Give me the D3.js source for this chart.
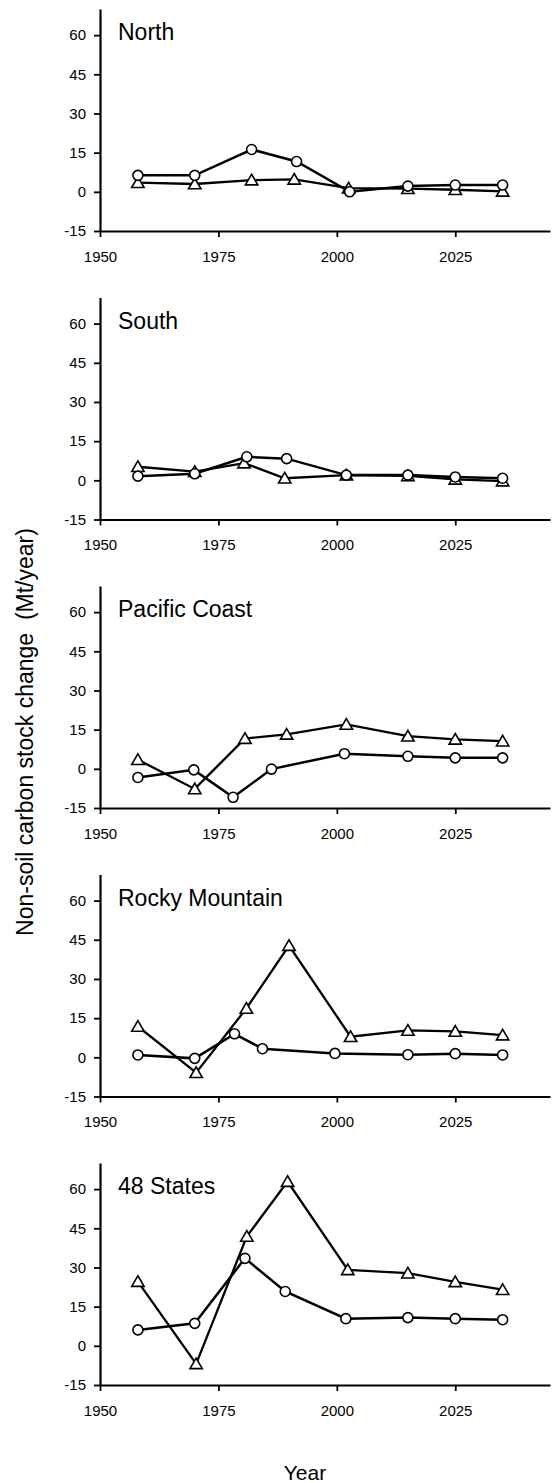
<meta charset="utf-8">
<script src="https://d3js.org/d3.v7.min.js"></script>
<style>
  body { margin: 0; background: #fff; }
  text { font-family: "Liberation Sans", Arial, Helvetica, sans-serif; fill: #000; }
</style>
<svg width=552 height=1483></svg>

<script>

// Tick labels shared by every panel
var xTicks = [1950, 1975, 2000, 2025];
var yTicks = [-15, 0, 15, 30, 45, 60];

// Panel names, top to bottom
var regions = ['North', 'South', 'Pacific Coast', 'Rocky Mountain', '48 States'];

// [year, Mt/year]; circles and triangles for each region
var northCircles = [[1958, 6.3], [1970, 6.3], [1982, 16.2], [1991.5, 11.6], [2002.7, 0], [2015, 2.2], [2025, 2.6], [2035, 2.6]];
var northTriangles = [[1958, 3.5], [1970, 3.0], [1982, 4.5], [1991, 4.8], [2002.5, 1.4], [2015, 1.2], [2025, 0.8], [2035, 0.2]];

var southCircles = [[1958, 1.6], [1970, 2.5], [1981, 9.0], [1989.4, 8.3], [2002, 2.0], [2015, 2.0], [2025, 1.3], [2035, 0.8]];
var southTriangles = [[1958, 5.2], [1970, 3.3], [1980.4, 6.6], [1989, 0.8], [2002, 2.0], [2015, 1.7], [2025, 0.4], [2035, -0.3]];

var pacificCircles = [[1958, -3.3], [1969.8, -0.4], [1978.1, -10.9], [1986.2, -0.1], [2001.6, 5.8], [2015, 4.8], [2025, 4.2], [2035, 4.2]];
var pacificTriangles = [[1958, 3.5], [1970, -7.7], [1980.6, 11.6], [1989.4, 13.2], [2002, 17.0], [2015, 12.5], [2025, 11.3], [2035, 10.6]];

var rockyCircles = [[1958, 0.9], [1970, -0.4], [1978.4, 9.0], [1984.3, 3.3], [1999.6, 1.5], [2015, 1.0], [2025, 1.4], [2035, 0.9]];
var rockyTriangles = [[1958, 11.8], [1970.3, -5.9], [1980.9, 18.7], [1989.9, 42.8], [2002.9, 7.9], [2015, 10.3], [2025, 9.9], [2035, 8.5]];

var statesCircles = [[1958, 6.1], [1970, 8.6], [1980.6, 33.5], [1989.1, 20.8], [2001.9, 10.4], [2015, 10.8], [2025, 10.4], [2035, 10.0]];
var statesTriangles = [[1958, 24.6], [1970.3, -6.9], [1981, 41.9], [1989.6, 62.9], [2002.3, 29.1], [2015, 27.8], [2025, 24.5], [2035, 21.5]];

var circleSeries = [northCircles, southCircles, pacificCircles, rockyCircles, statesCircles];
var triangleSeries = [northTriangles, southTriangles, pacificTriangles, rockyTriangles, statesTriangles];


var svg = d3.select('svg');

var panelH = 222;
var panelStep = 288.5;

var x = d3.scaleLinear().domain([1950, 2045]).range([100, 550]);
var y = d3.scaleLinear().domain([-15, 70]).range([panelH, 0]);

var line = d3.line()
  .x(function(d) { return x(d[0]); })
  .y(function(d) { return y(d[1]); });

var triangle = 'M0,-5.8L6.2,4.8L-6.2,4.8Z';

regions.forEach(function(name, i) {

  var g = svg.append('g')
    .attr('transform', 'translate(0,' + (9 + i * panelStep) + ')');

  // axes (plain hyphen for negatives, as in the original)
  g.append('g')
    .attr('transform', 'translate(0,' + panelH + ')')
    .call(d3.axisBottom(x).tickValues(xTicks).tickFormat(function(d) { return String(d); })
      .tickSize(6).tickSizeOuter(0).tickPadding(14));

  g.append('g')
    .attr('transform', 'translate(' + x(1950) + ',0)')
    .call(d3.axisLeft(y).tickValues(yTicks).tickFormat(function(d) { return String(d); })
      .tickSize(6).tickSizeOuter(0).tickPadding(8));

  g.selectAll('.domain').attr('stroke', '#000').attr('stroke-width', 2.2);
  g.selectAll('.tick line').attr('stroke', '#000').attr('stroke-width', 1.8);
  g.selectAll('.tick text').style('font-size', '15px').attr('fill', '#000');

  // region name
  g.append('text')
    .attr('x', 118)
    .attr('y', y(60) + 5)
    .style('font-size', '23px')
    .text(name);

  // lines
  g.append('path')
    .attr('d', line(triangleSeries[i]))
    .attr('fill', 'none')
    .attr('stroke', '#000')
    .attr('stroke-width', 2.3);

  g.append('path')
    .attr('d', line(circleSeries[i]))
    .attr('fill', 'none')
    .attr('stroke', '#000')
    .attr('stroke-width', 2.5);

  // markers
  g.selectAll('path.tri')
    .data(triangleSeries[i])
    .enter().append('path')
    .attr('class', 'tri')
    .attr('d', triangle)
    .attr('transform', function(d) { return 'translate(' + x(d[0]) + ',' + y(d[1]) + ')'; })
    .attr('fill', '#fff')
    .attr('stroke', '#000')
    .attr('stroke-width', 1.6);

  g.selectAll('circle')
    .data(circleSeries[i])
    .enter().append('circle')
    .attr('cx', function(d) { return x(d[0]); })
    .attr('cy', function(d) { return y(d[1]); })
    .attr('r', 5)
    .attr('fill', '#fff')
    .attr('stroke', '#000')
    .attr('stroke-width', 1.6);
});

// axis titles
svg.append('text')
  .attr('transform', 'translate(33,732) rotate(-90)')
  .attr('text-anchor', 'middle')
  .attr('xml:space', 'preserve')
  .style('white-space', 'pre')
  .style('font-size', '23px')
  .text('Non-soil carbon stock change  (Mt/year)');

svg.append('text')
  .attr('x', 305)
  .attr('y', 1480)
  .attr('text-anchor', 'middle')
  .style('font-size', '21px')
  .text('Year');

</script>
